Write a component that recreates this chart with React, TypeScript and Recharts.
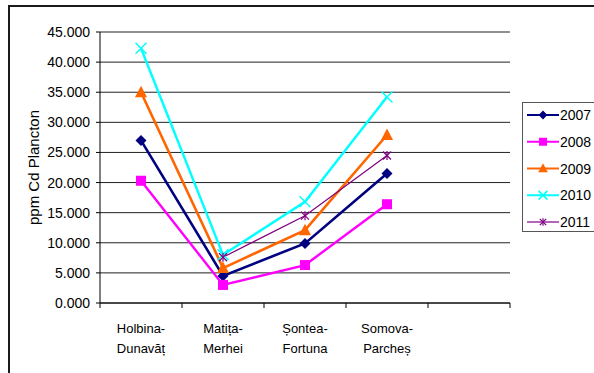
import { LineChart, Line, XAxis, YAxis, CartesianGrid, Legend } from 'recharts';

const categories = ['Holbina-Dunavăț', 'Matița-Merhei', 'Șontea-Fortuna', 'Somova-Parcheș', ''];
const cd2007 = [27.0, 4.5, 9.9, 21.5, null];
const cd2008 = [20.3, 3.0, 6.3, 16.4, null];
const cd2009 = [35.0, 5.8, 12.1, 27.9, null];
const cd2010 = [42.3, 8.0, 16.8, 34.2, null];
const cd2011 = [null, 7.6, 14.5, 24.5, null];
const yTicks = [0, 5, 10, 15, 20, 25, 30, 35, 40, 45];

const data = categories.map((name, i) => ({
  name,
  y2007: cd2007[i],
  y2008: cd2008[i],
  y2009: cd2009[i],
  y2010: cd2010[i],
  y2011: cd2011[i],
}));

type Shape = 'diamond' | 'square' | 'triangle' | 'cross' | 'star';

const series: { key: string; name: string; color: string; width: number; shape: Shape }[] = [
  { key: 'y2007', name: '2007', color: '#000080', width: 2.6, shape: 'diamond' },
  { key: 'y2008', name: '2008', color: '#FF00FF', width: 2.4, shape: 'square' },
  { key: 'y2009', name: '2009', color: '#FF6600', width: 2.6, shape: 'triangle' },
  { key: 'y2010', name: '2010', color: '#00FFFF', width: 2.4, shape: 'cross' },
  { key: 'y2011', name: '2011', color: '#800080', width: 1.2, shape: 'star' },
];

const FONT = '"Liberation Sans", Arial, sans-serif';
const WIDTH = 594;
const HEIGHT = 373;
const MARGIN = { top: 32, right: 84, bottom: 0, left: 0 };
const Y_AXIS_WIDTH = 100;
const X_AXIS_HEIGHT = 70;
// half of one category slot, used for padding and the boundary tick marks
const HALF_BAND = (WIDTH - MARGIN.left - MARGIN.right - Y_AXIS_WIDTH) / categories.length / 2;

function marker(shape: Shape, cx: number, cy: number, color: string, s = 1) {
  switch (shape) {
    case 'diamond': {
      const r = 5.5 * s;
      return <polygon points={`${cx},${cy - r} ${cx + r},${cy} ${cx},${cy + r} ${cx - r},${cy}`} fill={color} />;
    }
    case 'square': {
      const r = 5 * s;
      return <rect x={cx - r} y={cy - r} width={2 * r} height={2 * r} fill={color} />;
    }
    case 'triangle': {
      const r = 6 * s;
      return <polygon points={`${cx},${cy - r - 0.5} ${cx + r},${cy + r - 1} ${cx - r},${cy + r - 1}`} fill={color} />;
    }
    case 'cross': {
      const r = 5.5 * s;
      return (
        <g stroke={color} strokeWidth={1.5}>
          <line x1={cx - r} y1={cy - r} x2={cx + r} y2={cy + r} />
          <line x1={cx - r} y1={cy + r} x2={cx + r} y2={cy - r} />
        </g>
      );
    }
    default: {
      const r = 4 * s;
      return (
        <g stroke={color} strokeWidth={1.2}>
          <line x1={cx - r} y1={cy - r} x2={cx + r} y2={cy + r} />
          <line x1={cx - r} y1={cy + r} x2={cx + r} y2={cy - r} />
          <line x1={cx} y1={cy - r - 0.5} x2={cx} y2={cy + r + 0.5} />
        </g>
      );
    }
  }
}

function makeDot(shape: Shape, color: string) {
  return (props: any) => {
    const { cx, cy, index } = props;
    if (cx == null || cy == null || props.value == null) return <g key={`d-${index}`} />;
    return <g key={`d-${index}`}>{marker(shape, cx, cy, color)}</g>;
  };
}

// two-line category label with the tick marks between categories
function CategoryTick(props: any) {
  const { x, y, payload, index, visibleTicksCount } = props;
  const label: string = payload.value || '';
  const cut = label.indexOf('-');
  const first = cut >= 0 ? label.slice(0, cut + 1) : label;
  const second = cut >= 0 ? label.slice(cut + 1) : '';
  return (
    <g>
      <line x1={x - HALF_BAND} x2={x - HALF_BAND} y1={y} y2={y + 5} stroke="#000" />
      {index === visibleTicksCount - 1 && (
        <line x1={x + HALF_BAND} x2={x + HALF_BAND} y1={y} y2={y + 5} stroke="#000" />
      )}
      <text x={x} y={y} textAnchor="middle" fontSize={13} fontFamily={FONT} fill="#000">
        <tspan x={x} y={y + 30}>{first}</tspan>
        <tspan x={x} y={y + 50}>{second}</tspan>
      </text>
    </g>
  );
}

function YTitle(props: any) {
  const { viewBox } = props;
  const cx = viewBox.x + 33;
  const cy = viewBox.y + viewBox.height / 2;
  return (
    <text x={cx} y={cy} transform={`rotate(-90 ${cx} ${cy})`} textAnchor="middle" dominantBaseline="central"
      fontSize={15} fontFamily={FONT} fill="#000">
      ppm Cd Plancton
    </text>
  );
}

function LegendBox() {
  const rowGap = 26.75;
  return (
    <div style={{ border: '1px solid #555', width: 76, height: 130, background: '#fff', boxSizing: 'border-box' }}>
      <svg width={74} height={128} style={{ display: 'block', overflow: 'visible' }}>
        {series.map((s, i) => {
          const cy = 12 + i * rowGap;
          return (
            <g key={s.key}>
              <line x1={4} x2={36} y1={cy} y2={cy} stroke={s.color} strokeWidth={Math.min(s.width, 2)} />
              {marker(s.shape, 20, cy, s.color, 0.8)}
              <text x={37} y={cy} dominantBaseline="central" fontSize={14} fontFamily={FONT} fill="#000">
                {s.name}
              </text>
            </g>
          );
        })}
      </svg>
    </div>
  );
}

export default function App() {
  return (
    <div style={{ position: 'absolute', left: 0, top: 0, width: WIDTH, height: HEIGHT, overflow: 'hidden', background: '#fff' }}>
      <LineChart width={WIDTH} height={HEIGHT} data={data} margin={MARGIN}>
        <CartesianGrid vertical={false} stroke="#222" strokeWidth={1} />
        <XAxis
          dataKey="name"
          interval={0}
          height={X_AXIS_HEIGHT}
          padding={{ left: HALF_BAND, right: HALF_BAND }}
          axisLine={{ stroke: '#000' }}
          tickLine={false}
          tickSize={0}
          tickMargin={0}
          tick={<CategoryTick />}
        />
        <YAxis
          domain={[0, 45]}
          ticks={yTicks}
          width={Y_AXIS_WIDTH}
          tickFormatter={(v: number) => v.toFixed(3)}
          axisLine={{ stroke: '#000' }}
          tickLine={{ stroke: '#000' }}
          tickSize={4}
          tickMargin={6}
          tick={{ fill: '#000', fontSize: 14, fontFamily: FONT }}
          label={YTitle}
        />
        <YAxis
          yAxisId="frame"
          orientation="right"
          domain={[0, 45]}
          width={0}
          tick={false}
          tickLine={false}
          axisLine={{ stroke: '#808080' }}
        />
        {series.map((s) => (
          <Line
            key={s.key}
            dataKey={s.key}
            name={s.name}
            stroke={s.color}
            strokeWidth={s.width}
            dot={makeDot(s.shape, s.color)}
            activeDot={false}
            isAnimationActive={false}
          />
        ))}
        <Legend
          layout="vertical"
          align="center"
          verticalAlign="middle"
          wrapperStyle={{ left: 522, top: 102, width: 76 }}
          content={<LegendBox />}
        />
      </LineChart>
      {/* outer chart frame */}
      <div
        style={{
          position: 'absolute',
          left: 8,
          top: 5,
          width: 620,
          height: 420,
          borderTop: '2px solid #1a1a1a',
          borderLeft: '2px solid #1a1a1a',
          zIndex: 5,
          pointerEvents: 'none',
        }}
      />
    </div>
  );
}
